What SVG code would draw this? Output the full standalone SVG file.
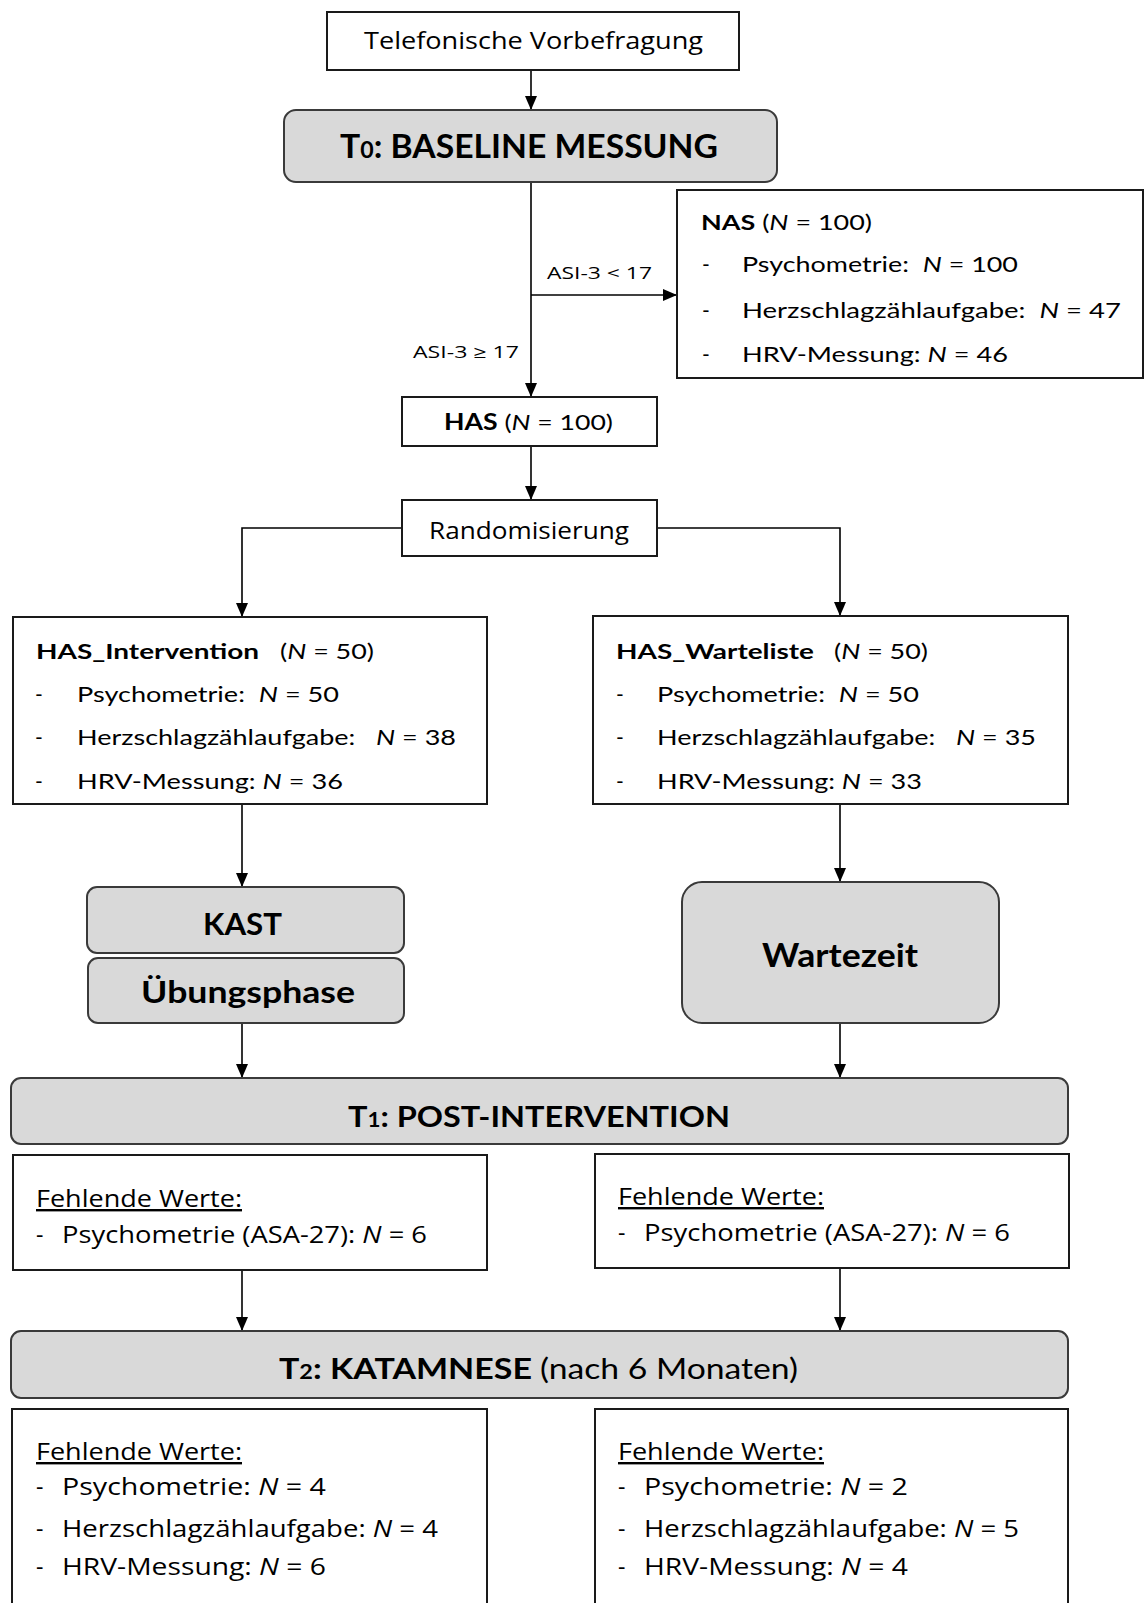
<svg xmlns="http://www.w3.org/2000/svg" width="1145" height="1603" viewBox="0 0 1145 1603">
<defs>
<marker id="ah" markerUnits="userSpaceOnUse" markerWidth="14" markerHeight="12" refX="14" refY="6" orient="auto">
<path d="M0,0 L14,6 L0,12 z" fill="#000"/>
</marker>
</defs>
<style>
.box{fill:#fff;stroke:#1a1a1a;stroke-width:2}
.gbox{fill:#d9d9d9;stroke:#3a3a3a;stroke-width:2}
.conn{fill:none;stroke:#000;stroke-width:1.6;marker-end:url(#ah)}
.c{font-family:Lato,"Liberation Sans",sans-serif;fill:#000;white-space:pre}
.s{font-family:"Open Sans","Liberation Sans",sans-serif;fill:#000;white-space:pre}
.b{font-weight:bold}
.i{font-style:italic}
.u{text-decoration:underline}
</style>
<rect width="1145" height="1603" fill="#fff"/>

<g id="connectors">
<path class="conn" d="M531,70 V110"/>
<path class="conn" d="M531,182 V397"/>
<path class="conn" d="M531,295 H677"/>
<path class="conn" d="M531,446 V500"/>
<path class="conn" d="M402,528 H242 V617"/>
<path class="conn" d="M657,528 H840 V616"/>
<path class="conn" d="M242,804 V887"/>
<path class="conn" d="M840,804 V882"/>
<path class="conn" d="M242,1023 V1078"/>
<path class="conn" d="M840,1023 V1078"/>
<path class="conn" d="M242,1270 V1331"/>
<path class="conn" d="M840,1268 V1331"/>
<text class="s" x="547" y="279" font-size="17" textLength="105" lengthAdjust="spacingAndGlyphs">ASI-3 &lt; 17</text>
<text class="s" x="413" y="358" font-size="17" textLength="106" lengthAdjust="spacingAndGlyphs">ASI-3 ≥ 17</text>
</g>

<g id="telefon">
<rect class="box" x="327" y="12" width="412" height="58"/>
<text class="s" x="364" y="49" font-size="24" textLength="339" lengthAdjust="spacingAndGlyphs">Telefonische Vorbefragung</text>
</g>

<g id="t0">
<rect class="gbox" x="284" y="110" width="493" height="72" rx="12"/>
<text class="c b" x="340" y="158" font-size="32" textLength="378" lengthAdjust="spacingAndGlyphs">T<tspan font-size="22">0</tspan>: BASELINE MESSUNG</text>
</g>

<g id="nas">
<rect class="box" x="677" y="190" width="466" height="188"/>
<text class="c" x="701" y="230" font-size="21" textLength="171" lengthAdjust="spacingAndGlyphs"><tspan class="b">NAS</tspan> (<tspan class="i">N</tspan> = 100)</text>
<text class="c" x="702" y="272" font-size="21">-</text>
<text class="c" x="742" y="272" font-size="21" textLength="276" lengthAdjust="spacingAndGlyphs">Psychometrie:  <tspan class="i">N</tspan> = 100</text>
<text class="c" x="702" y="318" font-size="21">-</text>
<text class="c" x="742" y="318" font-size="21" textLength="379" lengthAdjust="spacingAndGlyphs">Herzschlagzählaufgabe:  <tspan class="i">N</tspan> = 47</text>
<text class="c" x="702" y="362" font-size="21">-</text>
<text class="c" x="742" y="362" font-size="21" textLength="266" lengthAdjust="spacingAndGlyphs">HRV-Messung: <tspan class="i">N</tspan> = 46</text>
</g>

<g id="has">
<rect class="box" x="402" y="397" width="255" height="49"/>
<text class="c" x="444" y="430" font-size="22" textLength="169" lengthAdjust="spacingAndGlyphs"><tspan class="b">HAS</tspan> (<tspan class="i">N</tspan> = 100)</text>
</g>

<g id="random">
<rect class="box" x="402" y="500" width="255" height="56"/>
<text class="s" x="429" y="539" font-size="23" textLength="200" lengthAdjust="spacingAndGlyphs">Randomisierung</text>
</g>

<g id="has-intervention">
<rect class="box" x="13" y="617" width="474" height="187"/>
<text class="c b" x="36" y="659" font-size="21" textLength="223" lengthAdjust="spacingAndGlyphs">HAS_Intervention</text>
<text class="c" x="280" y="659" font-size="21" textLength="94" lengthAdjust="spacingAndGlyphs">(<tspan class="i">N</tspan> = 50)</text>
<text class="c" x="35" y="702" font-size="21">-</text>
<text class="c" x="77" y="702" font-size="21" textLength="262" lengthAdjust="spacingAndGlyphs">Psychometrie:  <tspan class="i">N</tspan> = 50</text>
<text class="c" x="35" y="745" font-size="21">-</text>
<text class="c" x="77" y="745" font-size="21" textLength="379" lengthAdjust="spacingAndGlyphs">Herzschlagzählaufgabe:   <tspan class="i">N</tspan> = 38</text>
<text class="c" x="35" y="789" font-size="21">-</text>
<text class="c" x="77" y="789" font-size="21" textLength="266" lengthAdjust="spacingAndGlyphs">HRV-Messung: <tspan class="i">N</tspan> = 36</text>
</g>

<g id="has-warteliste">
<rect class="box" x="593" y="616" width="475" height="188"/>
<text class="c b" x="616" y="659" font-size="21" textLength="198" lengthAdjust="spacingAndGlyphs">HAS_Warteliste</text>
<text class="c" x="834" y="659" font-size="21" textLength="94" lengthAdjust="spacingAndGlyphs">(<tspan class="i">N</tspan> = 50)</text>
<text class="c" x="616" y="702" font-size="21">-</text>
<text class="c" x="657" y="702" font-size="21" textLength="262" lengthAdjust="spacingAndGlyphs">Psychometrie:  <tspan class="i">N</tspan> = 50</text>
<text class="c" x="616" y="745" font-size="21">-</text>
<text class="c" x="657" y="745" font-size="21" textLength="379" lengthAdjust="spacingAndGlyphs">Herzschlagzählaufgabe:   <tspan class="i">N</tspan> = 35</text>
<text class="c" x="616" y="789" font-size="21">-</text>
<text class="c" x="657" y="789" font-size="21" textLength="265" lengthAdjust="spacingAndGlyphs">HRV-Messung: <tspan class="i">N</tspan> = 33</text>
</g>

<g id="kast">
<rect class="gbox" x="87" y="887" width="317" height="66" rx="10"/>
<text class="c b" x="203" y="935" font-size="31" textLength="79" lengthAdjust="spacingAndGlyphs">KAST</text>
</g>

<g id="uebungsphase">
<rect class="gbox" x="88" y="958" width="316" height="65" rx="10"/>
<text class="c b" x="141" y="1003" font-size="31" textLength="214" lengthAdjust="spacingAndGlyphs">Übungsphase</text>
</g>

<g id="wartezeit">
<rect class="gbox" x="682" y="882" width="317" height="141" rx="20"/>
<text class="c b" x="762" y="967" font-size="32" textLength="156" lengthAdjust="spacingAndGlyphs">Wartezeit</text>
</g>

<g id="t1">
<rect class="gbox" x="11" y="1078" width="1057" height="66" rx="10"/>
<text class="c b" x="348" y="1127" font-size="29" textLength="382" lengthAdjust="spacingAndGlyphs">T<tspan font-size="20">1</tspan>: POST-INTERVENTION</text>
</g>

<g id="t1-missing-left">
<rect class="box" x="13" y="1155" width="474" height="115"/>
<text class="s u" x="36" y="1207" font-size="24" textLength="206" lengthAdjust="spacingAndGlyphs">Fehlende Werte:</text>
<text class="s" x="36" y="1243" font-size="23">-</text>
<text class="s" x="62" y="1243" font-size="23" textLength="365" lengthAdjust="spacingAndGlyphs">Psychometrie (ASA-27): <tspan class="i">N</tspan> = 6</text>
</g>

<g id="t1-missing-right">
<rect class="box" x="595" y="1154" width="474" height="114"/>
<text class="s u" x="618" y="1205" font-size="24" textLength="206" lengthAdjust="spacingAndGlyphs">Fehlende Werte:</text>
<text class="s" x="618" y="1241" font-size="23">-</text>
<text class="s" x="644" y="1241" font-size="23" textLength="366" lengthAdjust="spacingAndGlyphs">Psychometrie (ASA-27): <tspan class="i">N</tspan> = 6</text>
</g>

<g id="t2">
<rect class="gbox" x="11" y="1331" width="1057" height="67" rx="10"/>
<text class="c b" x="279" y="1379" font-size="29" textLength="253" lengthAdjust="spacingAndGlyphs">T<tspan font-size="20">2</tspan>: KATAMNESE</text>
<text class="c" x="540" y="1379" font-size="29" textLength="258" lengthAdjust="spacingAndGlyphs">(nach 6 Monaten)</text>
</g>

<g id="t2-missing-left">
<rect class="box" x="12" y="1409" width="475" height="210"/>
<text class="s u" x="36" y="1460" font-size="24" textLength="206" lengthAdjust="spacingAndGlyphs">Fehlende Werte:</text>
<text class="s" x="36" y="1495" font-size="23">-</text>
<text class="s" x="62" y="1495" font-size="23" textLength="264" lengthAdjust="spacingAndGlyphs">Psychometrie: <tspan class="i">N</tspan> = 4</text>
<text class="s" x="36" y="1537" font-size="23">-</text>
<text class="s" x="62" y="1537" font-size="23" textLength="376" lengthAdjust="spacingAndGlyphs">Herzschlagzählaufgabe: <tspan class="i">N</tspan> = 4</text>
<text class="s" x="36" y="1575" font-size="23">-</text>
<text class="s" x="62" y="1575" font-size="23" textLength="264" lengthAdjust="spacingAndGlyphs">HRV-Messung: <tspan class="i">N</tspan> = 6</text>
</g>

<g id="t2-missing-right">
<rect class="box" x="595" y="1409" width="473" height="210"/>
<text class="s u" x="618" y="1460" font-size="24" textLength="206" lengthAdjust="spacingAndGlyphs">Fehlende Werte:</text>
<text class="s" x="618" y="1495" font-size="23">-</text>
<text class="s" x="644" y="1495" font-size="23" textLength="264" lengthAdjust="spacingAndGlyphs">Psychometrie: <tspan class="i">N</tspan> = 2</text>
<text class="s" x="618" y="1537" font-size="23">-</text>
<text class="s" x="644" y="1537" font-size="23" textLength="375" lengthAdjust="spacingAndGlyphs">Herzschlagzählaufgabe: <tspan class="i">N</tspan> = 5</text>
<text class="s" x="618" y="1575" font-size="23">-</text>
<text class="s" x="644" y="1575" font-size="23" textLength="264" lengthAdjust="spacingAndGlyphs">HRV-Messung: <tspan class="i">N</tspan> = 4</text>
</g>
</svg>
